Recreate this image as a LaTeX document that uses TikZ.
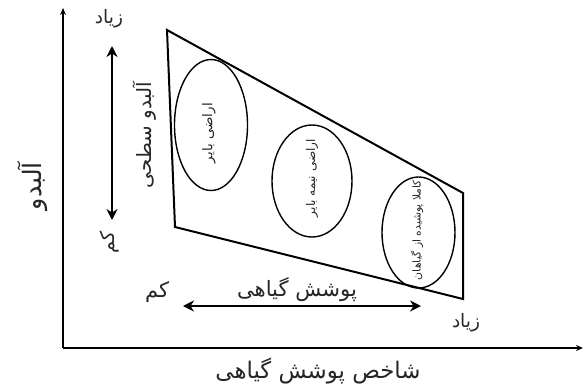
\documentclass[tikz,border=0pt]{standalone}
\usepackage{fontspec}
\usepackage{graphicx}
\usetikzlibrary{arrows.meta,shapes.geometric}
\TeXXeTstate=1
\newfontfamily\arabicfont[Script=Arabic]{DejaVu Sans}
\newcommand\fa[2]{\resizebox{#1}{!}{\arabicfont #2}}
\tikzset{
  axis/.style={line width=2pt,-{Stealth[length=7pt,width=6pt]}},
  dbl/.style={line width=2.4pt,{Stealth[length=11pt,width=11pt]}-{Stealth[length=11pt,width=11pt]}},
  zone/.style={draw,ellipse,line width=1.4pt,inner sep=0pt},
  lbl/.style={inner sep=0pt,text=black!85},
  frame/.style={line width=2pt,line join=miter}
}
\begin{document}
\begin{tikzpicture}[x=1pt,y=-1pt]
\useasboundingbox (0,0) rectangle (584,389);
% axes
\coordinate (O) at (63,348);
\coordinate (Ytop) at (63,8);
\coordinate (Xend) at (583,348);
\draw[axis] (O) -- (Ytop);
\draw[axis] (O) -- (Xend);
% quadrilateral
\coordinate (q1) at (167,30);
\coordinate (q2) at (463,193);
\coordinate (q3) at (463,299);
\coordinate (q4) at (175,227);
\draw[frame] (q1) -- (q2) -- (q3) -- (q4) -- cycle;
% ellipses
\node[zone,minimum width=73pt,minimum height=131pt] (e1) at (211,125) {};
\node[zone,minimum width=80pt,minimum height=112pt] (e2) at (312,181) {};
\node[zone,minimum width=73pt,minimum height=111pt] (e3) at (418.5,232.5) {};
\node[lbl,rotate=90] (t1) at (209,133) {\fa{60pt}{\beginR اراضی بایر\endR}};
\node[lbl,rotate=90] (t2) at (312,178) {\fa{78pt}{\beginR اراضی نیمه بایر\endR}};
\node[lbl,rotate=90] (t3) at (417,230) {\fa{100pt}{\beginR کاملا پوشیده از گیاهان\endR}};
% vertical double arrow
\coordinate (va) at (112,46);
\coordinate (vb) at (112,220);
\draw[dbl] (va) -- (vb);
% horizontal double arrow
\coordinate (ha) at (183,306);
\coordinate (hb) at (421,306);
\draw[dbl] (ha) -- (hb);
% labels
\node[lbl] (zyTop) at (109,19) {\fa{28pt}{\beginR زیاد\endR}};
\node[lbl,rotate=90] (kmLeft) at (109,242) {\fa{22pt}{\beginR کم\endR}};
\node[lbl,rotate=90] (albS) at (145,135) {\fa{106pt}{\beginR آلبدو سطحی\endR}};
\node[lbl] (kmBot) at (157,292) {\fa{24pt}{\beginR کم\endR}};
\node[lbl] (veg) at (297,290) {\fa{120pt}{\beginR پوشش گیاهی\endR}};
\node[lbl] (zyBot) at (466,323) {\fa{28pt}{\beginR زیاد\endR}};
\node[lbl] (ndvi) at (318,371) {\fa{205pt}{\beginR شاخص پوشش گیاهی\endR}};
\node[lbl,rotate=90] (alb) at (33,186) {\fa{48pt}{\beginR آلبدو\endR}};
\end{tikzpicture}
\end{document}
